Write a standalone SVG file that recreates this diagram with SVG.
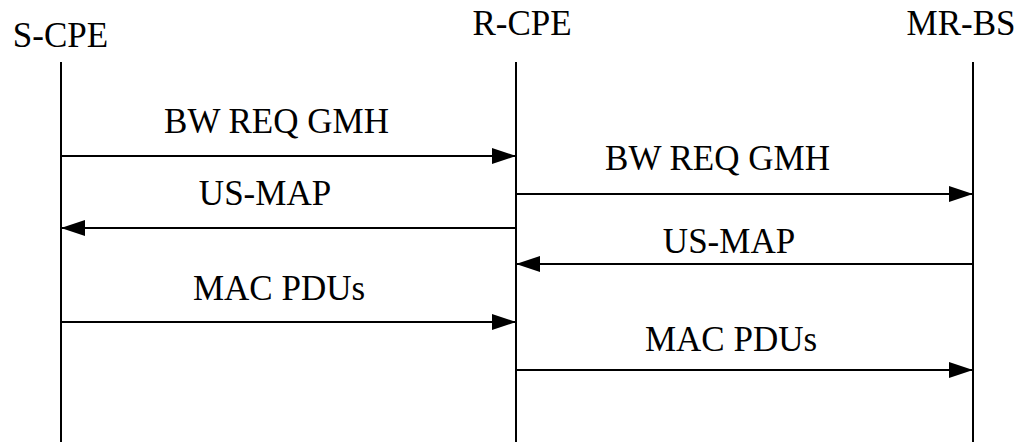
<svg xmlns="http://www.w3.org/2000/svg" width="1021" height="442" viewBox="0 0 1021 442">
<style>
text{font-family:"Times New Roman","Liberation Serif",Times,serif;font-size:35px;fill:#000;text-anchor:middle}
.life{stroke:#000;stroke-width:2;fill:none}
.msg{stroke:#000;stroke-width:2;fill:none}
</style>
<defs>
<marker id="ah" viewBox="0 0 24 16" refX="24" refY="8" markerWidth="24" markerHeight="16" markerUnits="userSpaceOnUse" orient="auto">
<path d="M0,0 L24,8 L0,16 Z" fill="#000"/>
</marker>
</defs>
<rect width="1021" height="442" fill="#fff"/>
<g id="s-cpe">
<text x="60.5" y="46.5">S-CPE</text>
<line class="life" x1="61" y1="62" x2="61" y2="442"/>
</g>
<g id="r-cpe">
<text x="522" y="35">R-CPE</text>
<line class="life" x1="516" y1="62" x2="516" y2="442"/>
</g>
<g id="mr-bs">
<text x="961" y="35">MR-BS</text>
<line class="life" x1="973" y1="62" x2="973" y2="442"/>
</g>
<g id="connectors">
<line class="msg" x1="61" y1="156" x2="516" y2="156" marker-end="url(#ah)"/>
<text x="276.5" y="132.5">BW REQ GMH</text>
<line class="msg" x1="516" y1="194" x2="973" y2="194" marker-end="url(#ah)"/>
<text x="717.5" y="170">BW REQ GMH</text>
<line class="msg" x1="516" y1="228" x2="61" y2="228" marker-end="url(#ah)"/>
<text x="265" y="205">US-MAP</text>
<line class="msg" x1="973" y1="264" x2="516" y2="264" marker-end="url(#ah)"/>
<text x="729" y="253">US-MAP</text>
<line class="msg" x1="61" y1="322" x2="516" y2="322" marker-end="url(#ah)"/>
<text x="279" y="299.5">MAC PDUs</text>
<line class="msg" x1="516" y1="370" x2="973" y2="370" marker-end="url(#ah)"/>
<text x="731" y="350.5">MAC PDUs</text>
</g>
</svg>
